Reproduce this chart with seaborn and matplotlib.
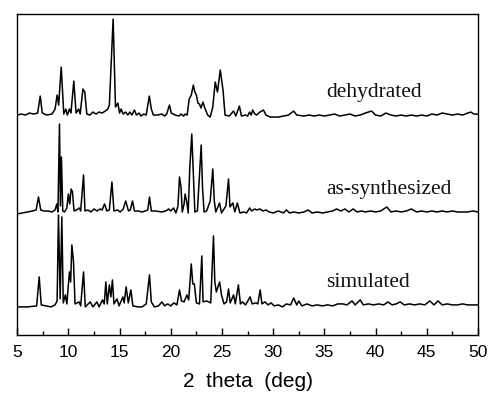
import matplotlib
matplotlib.use("Agg")
import matplotlib.pyplot as plt
from matplotlib.ticker import MultipleLocator
import seaborn as sns
import pandas as pd

# peak/valley vertices: 2theta and height above each baseline
dehyd_2t = [5.0, 5.4, 5.8, 6.2, 6.6, 7.0, 7.25, 7.45, 7.9, 8.4, 8.7, 8.9, 9.05, 9.3, 9.55,
            9.75, 9.9, 10.1, 10.25, 10.53, 10.75, 11.0, 11.15, 11.42, 11.6, 11.8, 12.1, 12.4,
            12.7, 13.0, 13.3, 13.6, 13.85, 14.0, 14.37, 14.6, 14.83, 15.0, 15.15, 15.35, 15.6,
            15.8, 16.0, 16.2, 16.45, 16.65, 16.9, 17.1, 17.34, 17.6, 17.9, 18.1, 18.3, 18.7,
            19.13, 19.4, 19.6, 19.87, 20.05, 20.43, 20.8, 21.0, 21.25, 21.4, 21.6, 21.8, 22.0,
            22.2, 22.35, 22.5, 22.65, 22.8, 22.95, 23.14, 23.36, 23.6, 23.85, 24.1, 24.34,
            24.56, 24.83, 25.1, 25.3, 25.7, 26.13, 26.35, 26.7, 26.9, 27.27, 27.5, 27.7, 27.85,
            28.0, 28.2, 28.4, 28.7, 29.05, 29.3, 29.7, 30.5, 31.0, 31.5, 32.0, 32.3, 33.0,
            33.5, 34.0, 34.5, 35.0, 35.5, 36.0, 36.5, 37.0, 37.5, 38.0, 38.5, 39.0, 39.6, 40.0,
            40.5, 41.0, 41.5, 42.0, 42.5, 43.0, 43.5, 44.0, 44.5, 45.0, 45.5, 46.0, 46.5, 47.0,
            47.5, 48.0, 48.5, 49.0, 49.3, 49.6, 50.0]
dehyd_int = [2, 3, 2, 4, 3, 4, 21, 4, 2, 3, 8, 22, 12, 50, 3,
             8, 2, 8, 4, 36, 4, 8, 3, 28, 25, 3, 2, 5,
             3, 5, 4, 6, 8, 12, 98, 10, 14, 4, 8, 3, 5,
             2, 5, 2, 7, 2, 4, 1, 3, 2, 21, 8, 2, 2,
             3, 1, 3, 12, 4, 2, 1, 3, 1, 3, 2, 18, 22,
             32, 25, 22, 14, 13, 9, 15, 8, 2, 0, 10, 35,
             25, 47, 27, 2, 1, 6, 1, 11, 1, 2, 1, 5, 2,
             7, 3, 2, 5, 7, 2, 0, 0, 1, 2, 6, 2, 1,
             2, 1, 2, 1, 2, 3, 1, 2, 3, 1, 2, 4, 6, 2,
             1, 4, 2, 1, 2, 1, 2, 1, 2, 1, 3, 2, 4, 3,
             2, 3, 2, 4, 5, 3, 3]

assyn_2t = [5.0, 5.5, 6.0, 6.5, 6.85, 7.08, 7.3, 7.6, 8.0, 8.4, 8.7, 8.87, 8.98, 9.13, 9.22,
            9.32, 9.45, 9.62, 9.85, 10.0, 10.13, 10.27, 10.4, 10.55, 10.8, 11.05, 11.2, 11.48,
            11.62, 11.9, 12.2, 12.5, 12.8, 13.1, 13.3, 13.53, 13.76, 14.0, 14.25, 14.45, 14.8,
            15.06, 15.35, 15.6, 15.87, 16.05, 16.26, 16.45, 16.8, 17.18, 17.5, 17.75, 17.92,
            18.1, 18.5, 19.13, 19.5, 19.8, 20.0, 20.27, 20.5, 20.7, 20.85, 21.0, 21.12, 21.3,
            21.4, 21.56, 21.7, 21.85, 22.05, 22.2, 22.35, 22.6, 22.97, 23.1, 23.25, 23.5,
            23.85, 24.1, 24.25, 24.4, 24.76, 24.95, 25.38, 25.64, 25.78, 26.06, 26.25, 26.5,
            26.75, 27.1, 27.4, 27.7, 27.9, 28.2, 28.4, 28.7, 29.0, 29.3, 29.6, 30.0, 30.5,
            31.0, 31.3, 31.6, 32.0, 32.5, 33.0, 33.4, 33.8, 34.3, 34.8, 35.3, 35.8, 36.2,
            36.6, 37.0, 37.4, 37.8, 38.2, 38.6, 39.0, 39.5, 40.0, 40.5, 41.1, 41.5, 42.0,
            42.5, 43.0, 43.5, 44.0, 44.5, 45.0, 45.5, 46.0, 46.5, 47.0, 47.5, 48.0, 48.5,
            49.0, 49.5, 50.0]
assyn_int = [0, 1, 2, 3, 4, 17, 4, 3, 3, 2, 4, 10, 2, 90, 8,
             57, 3, 2, 6, 20, 10, 25, 22, 3, 4, 6, 3, 39,
             3, 4, 2, 5, 3, 5, 4, 10, 3, 4, 32, 3, 4,
             2, 5, 13, 3, 4, 13, 3, 3, 2, 3, 4, 17,
             3, 3, 2, 3, 5, 3, 6, 1, 8, 37, 27, 2, 10,
             20, 12, 1, 45, 80, 40, 2, 3, 69, 26, 2, 3,
             13, 45, 13, 2, 11, 1, 8, 35, 7, 11, 2, 11,
             1, 2, 1, 6, 3, 5, 4, 5, 3, 4, 2, 1, 3,
             1, 4, 1, 2, 1, 2, 4, 1, 2, 1, 2, 3, 5,
             3, 5, 2, 5, 2, 3, 2, 3, 2, 3, 7, 2, 3,
             2, 3, 5, 2, 3, 2, 3, 2, 3, 2, 3, 2, 2,
             2, 3, 2]

sim_2t = [5.0, 6.0, 6.9, 7.15, 7.35, 7.8, 8.3, 8.7, 8.9, 9.03, 9.2, 9.36, 9.5, 9.7, 9.85,
          10.1, 10.22, 10.34, 10.5, 10.65, 11.05, 11.2, 11.48, 11.65, 12.13, 12.4, 12.78, 13.0,
          13.33, 13.5, 13.66, 13.8, 14.0, 14.15, 14.3, 14.45, 14.75, 14.95, 15.32, 15.45,
          15.64, 15.85, 16.1, 16.3, 16.8, 17.2, 17.6, 17.92, 18.1, 18.4, 18.8, 19.13, 19.4,
          19.7, 20.0, 20.3, 20.6, 20.85, 21.05, 21.3, 21.57, 21.75, 22.0, 22.15, 22.3, 22.5,
          22.8, 22.95, 23.03, 23.15, 23.5, 23.9, 24.17, 24.3, 24.45, 24.6, 24.77, 24.95,
          25.2, 25.45, 25.64, 25.8, 26.13, 26.3, 26.6, 26.8, 27.0, 27.3, 27.75, 27.95, 28.3,
          28.5, 28.73, 28.9, 29.2, 29.5, 29.8, 30.1, 30.5, 30.9, 31.3, 31.7, 32.0, 32.3,
          32.5, 32.8, 33.3, 33.8, 34.3, 34.8, 35.3, 35.8, 36.3, 36.8, 37.2, 37.7, 38.0, 38.5,
          38.8, 39.3, 39.8, 40.3, 40.8, 41.2, 41.6, 42.0, 42.4, 42.8, 43.3, 43.8, 44.3, 44.8,
          45.3, 45.7, 46.1, 46.5, 47.0, 47.5, 48.0, 48.5, 49.0, 49.5, 50.0]
sim_int = [0, 0, 1, 30, 2, 1, 0, 2, 6, 92, 8, 90, 4, 12, 3,
           35, 25, 62, 45, 3, 5, 1, 35, 0, 5, 0, 5, 0,
           7, 3, 25, 3, 22, 10, 27, 3, 8, 1, 10, 4,
           20, 4, 17, 1, 0, 0, 3, 32, 5, 0, 1, 5, 1,
           3, 1, 4, 2, 17, 6, 5, 12, 7, 43, 23, 23, 4,
           3, 35, 51, 5, 6, 4, 71, 25, 15, 20, 25, 12,
           3, 5, 18, 4, 12, 3, 22, 3, 5, 2, 10, 3, 4,
           3, 17, 3, 5, 2, 4, 1, 2, 0, 3, 2, 9, 2,
           6, 1, 3, 1, 2, 1, 2, 1, 3, 3, 2, 6, 2, 7,
           2, 3, 2, 3, 2, 5, 2, 3, 5, 2, 3, 2, 3, 2,
           6, 2, 6, 2, 3, 2, 2, 3, 2, 2, 2]

patterns = ["dehydrated", "as-synthesized", "simulated"]
offsets = {"dehydrated": 190, "as-synthesized": 93, "simulated": 0}

frames = []
for name, tt, inten in [("dehydrated", dehyd_2t, dehyd_int),
                        ("as-synthesized", assyn_2t, assyn_int),
                        ("simulated", sim_2t, sim_int)]:
    d = pd.DataFrame({"2theta": tt, "intensity": inten})
    d["intensity"] = d["intensity"] + offsets[name]
    d["pattern"] = name
    frames.append(d)
df = pd.concat(frames, ignore_index=True)

sns.set_theme(style="ticks")
plt.rcParams["font.family"] = ["Liberation Sans", "DejaVu Sans"]

fig = plt.figure(figsize=(4.91, 4.03), dpi=100)
ax = fig.add_axes([0.035, 0.169, 0.9385, 0.796])

sns.lineplot(data=df, x="2theta", y="intensity", hue="pattern",
             palette={p: "black" for p in patterns}, estimator=None, sort=False,
             linewidth=1.1, legend=False, ax=ax)

for name in patterns:
    ax.text(35.2, offsets[name] + 20, name, family="Liberation Serif",
            fontsize=15.5, color="#111111", va="baseline", ha="left")

ax.set_xlim(5, 50)
ax.set_ylim(-28, 293)
ax.xaxis.set_major_locator(MultipleLocator(5))
ax.xaxis.set_minor_locator(MultipleLocator(2.5))
ax.tick_params(axis="x", which="major", direction="in", length=5, width=1,
               labelsize=12.5, pad=7, colors="black", labelcolor="black")
ax.tick_params(axis="x", which="minor", direction="in", length=3, width=1,
               colors="black")
ax.set_yticks([])
ax.set_ylabel("")
ax.set_xlabel("2  theta  (deg)", fontsize=15, labelpad=9, color="black")
for s in ax.spines.values():
    s.set_visible(True)
    s.set_color("black")
    s.set_linewidth(1.0)

fig.savefig("out.png", dpi=100)
